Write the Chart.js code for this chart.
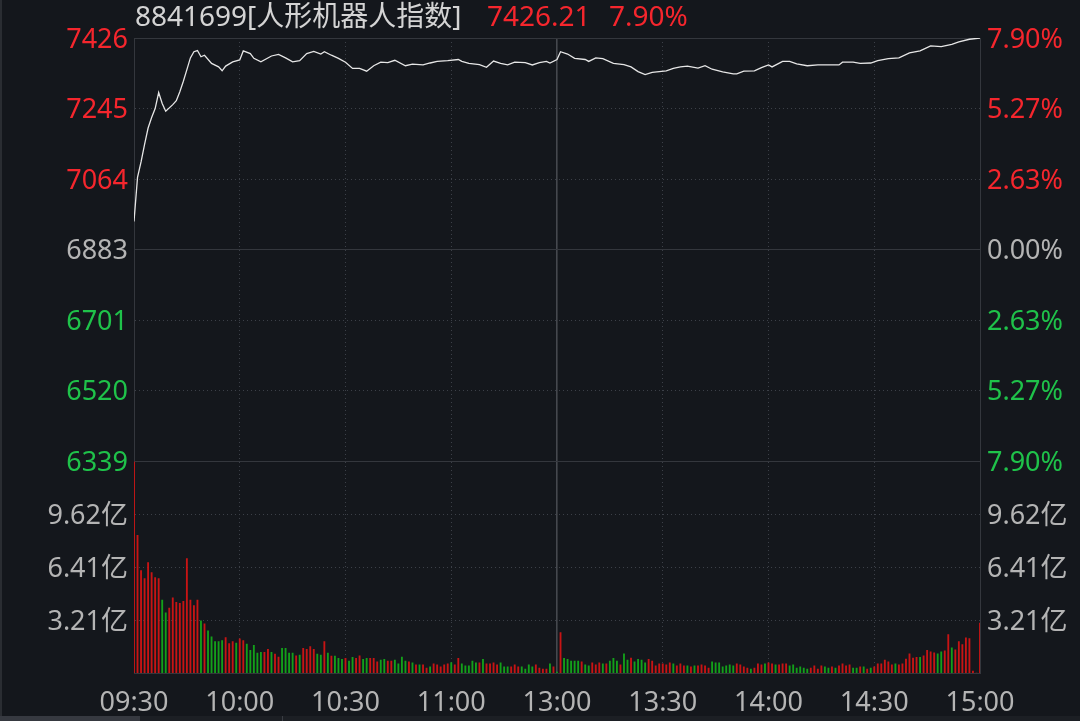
<!DOCTYPE html>
<html>
<head>
<meta charset="utf-8">
<script src="https://cdn.jsdelivr.net/npm/chart.js@4.4.1/dist/chart.umd.min.js"></script>
<style>
  html, body { margin: 0; padding: 0; background: #14171c; }
  #wrap { position: relative; width: 1080px; height: 721px; overflow: hidden; background: #14171c; }
  #chart { position: absolute; left: 0; top: 0; }
  .ttl { position: absolute; top: 0; line-height: 30px; font-size: 28px; white-space: pre;
         font-family: "Noto Sans", "Noto Sans CJK SC", sans-serif; color: #d4d4d4; }
  .up { color: #f5262d; }
  #edge { position: absolute; left: 0; top: 0; width: 2px; height: 716px; background: #2a2d32; }
  #strip { position: absolute; left: 0; top: 716px; width: 1080px; height: 5px; background: #1c1f24; }
  #strip .a { position: absolute; left: 0; top: 0; width: 140px; height: 5px; background: #363940; }
  #strip .b { position: absolute; left: 282px; top: 0; width: 1px; height: 5px; background: #3a3d43; }
</style>
</head>
<body>
<div id="wrap">
  <canvas id="chart" width="1080" height="721"></canvas>
  <div class="ttl" style="left:135px">8841699[人形机器人指数]</div>
  <div class="ttl up" style="left:487px">7426.21</div>
  <div class="ttl up" style="left:609px">7.90%</div>
  <div id="edge"></div>
  <div id="strip"><div class="a"></div><div class="b"></div></div>
</div>
<script>
// 昨收 / 最高, 轴的刻度由它们算出
const prevClose = 6882.5;
const dayHigh = 7426.21;
const volMax = 12.83; // 亿

// 刻度文字 (从上到下)
const priceTickLabels = ['7426', '7245', '7064', '6883', '6701', '6520', '6339'];
const pctTickLabels = ['7.90%', '5.27%', '2.63%', '0.00%', '2.63%', '5.27%', '7.90%'];
const volTickLabels = ['3.21亿', '6.41亿', '9.62亿']; // 从下到上
const timeTickMinutes = [0, 30, 60, 90, 120, 150, 180, 210, 240];
const timeLabels = ['09:30', '10:00', '10:30', '11:00', '13:00', '13:30', '14:00', '14:30', '15:00'];

// 分时价格 (分钟序号, 价格)
const priceMinutes = [
  0, 1, 2, 3, 4, 5, 6, 7, 8, 9,
  11, 12, 13, 14, 15, 16, 17, 18, 19, 20,
  22, 24, 25, 26, 28, 30, 31, 33, 34, 36,
  39, 41, 43, 45, 47, 49, 51, 53, 54, 56,
  58, 60, 62, 64, 66, 68, 70, 72, 74, 77,
  79, 82, 84, 86, 89, 92, 93, 95, 98, 100,
  102, 104, 106, 108, 111, 113, 115, 117, 118, 120,
  121, 123, 125, 128, 129, 131, 133, 136, 139, 141,
  143, 145, 147, 151, 153, 155, 157, 160, 162, 164,
  167, 170, 171, 173, 176, 178, 180, 181, 184, 186,
  188, 191, 194, 197, 200, 201, 204, 206, 209, 211,
  214, 217, 220, 223, 226, 229, 232, 234, 237, 240
];
const prices = [
  6955, 7068, 7108, 7153, 7195, 7222, 7245, 7286, 7258, 7238,
  7255, 7265, 7288, 7315, 7345, 7375, 7391, 7394, 7378, 7382,
  7361, 7352, 7342, 7354, 7365, 7370, 7393, 7386, 7374, 7365,
  7380, 7384, 7375, 7365, 7368, 7386, 7392, 7385, 7391, 7382,
  7374, 7364, 7348, 7348, 7341, 7355, 7364, 7363, 7369, 7355,
  7359, 7357, 7362, 7366, 7368, 7371, 7366, 7361, 7358, 7351,
  7367, 7361, 7357, 7364, 7363, 7357, 7363, 7366, 7362, 7371,
  7391, 7385, 7374, 7371, 7366, 7375, 7373, 7361, 7358, 7352,
  7340, 7332, 7338, 7342, 7348, 7352, 7354, 7349, 7355, 7346,
  7339, 7334, 7334, 7341, 7342, 7350, 7357, 7352, 7366, 7366,
  7360, 7355, 7357, 7357, 7357, 7364, 7364, 7361, 7362, 7368,
  7373, 7375, 7388, 7393, 7406, 7404, 7410, 7416, 7423, 7426.21
];

// 每分钟成交额 (亿)
const volumes = [
  12.8, 8.34, 6.21, 5.73, 6.69, 6.08, 5.79, 5.73, 4.42, 3.64,
  3.94, 4.55, 4.28, 4.22, 4.34, 6.94, 4.42, 4.08, 4.42, 3.16,
  2.98, 2.55, 2.19, 1.91, 1.91, 1.97, 2.15, 1.79, 1.91, 1.81,
  2.07, 1.97, 1.75, 1.38, 1.67, 1.20, 1.26, 1.26, 1.44, 1.26,
  1.14, 0.97, 1.50, 1.50, 1.20, 1.20, 1.04, 1.08, 1.50, 1.44,
  1.60, 1.44, 1.14, 1.08, 1.91, 1.20, 1.02, 1.02, 0.89, 0.83,
  0.89, 0.73, 0.95, 0.89, 1.04, 0.83, 0.89, 0.89, 0.89, 0.67,
  0.79, 0.83, 0.73, 0.73, 0.79, 0.55, 0.97, 0.73, 0.67, 0.61,
  0.49, 0.49, 0.49, 0.30, 0.37, 0.55, 0.49, 0.37, 0.49, 0.55,
  0.63, 0.49, 0.89, 0.55, 0.43, 0.43, 0.73, 0.61, 0.61, 0.83,
  0.55, 0.55, 0.61, 0.49, 0.61, 0.37, 0.37, 0.37, 0.49, 0.37,
  0.37, 0.24, 0.49, 0.37, 0.49, 0.30, 0.24, 0.24, 0.55, 0.37,
  0.06, 2.45, 0.89, 0.83, 0.73, 0.73, 0.73, 0.67, 0.49, 0.43,
  0.61, 0.49, 0.61, 0.55, 0.55, 0.73, 0.89, 0.73, 0.49, 1.16,
  0.79, 0.91, 0.67, 0.83, 0.79, 0.61, 0.83, 0.73, 0.43, 0.55,
  0.55, 0.49, 0.61, 0.55, 0.43, 0.55, 0.43, 0.43, 0.37, 0.43,
  0.43, 0.49, 0.43, 0.30, 0.67, 0.61, 0.61, 0.37, 0.43, 0.49,
  0.43, 0.55, 0.49, 0.37, 0.30, 0.24, 0.30, 0.55, 0.49, 0.55,
  0.61, 0.55, 0.49, 0.49, 0.55, 0.55, 0.43, 0.49, 0.30, 0.37,
  0.30, 0.24, 0.30, 0.43, 0.24, 0.43, 0.37, 0.30, 0.37, 0.30,
  0.43, 0.55, 0.43, 0.49, 0.30, 0.30, 0.37, 0.37, 0.24, 0.30,
  0.37, 0.55, 0.55, 0.79, 0.67, 0.49, 0.55, 0.49, 0.55, 0.85,
  1.16, 0.91, 0.95, 0.95, 1.04, 1.38, 1.28, 1.22, 1.16, 1.28,
  1.34, 2.33, 1.52, 1.40, 1.91, 1.73, 2.13, 2.09, 0.12, 0,
  3.02
];
// 涨(r) / 跌(g)
const volDir = (
  'rrrrrrrrgg' + 'rrrrrrrrrg' + 'rgggggrrrg' + 'rrgggggrrg' + 'rrggggrgrr' +
  'rrggrgrggg' + 'rggrrggrrr' + 'ggrrggggrg' + 'rgrrgrrrrr' + 'grrgggggrg' +
  'rrrrgggrrr' + 'ggggrrrrgr' + 'grgggggrgg' + 'rrrgrgggrg' + 'grggggrrrr' +
  'rrrgrrrgrg' + 'rrrrgggggg' + 'grrrrgrrrg' + 'rrgrrrgggg' + 'ggrrrrggrg' +
  'rrrrggrgrg' + 'rrrrrrgrrr' + 'rrrgrrrrgg' + 'rrgrrrrrrr' + 'r'
).split('');

const RED = '#f5262d';
const GREEN = '#1fc24a';
const GRAY = '#b4b4b4';
const BAR_RED = '#c81414';
const BAR_GREEN = '#13a01a';
const GRID_SOLID = '#34373d';
const GRID_DOT = '#3c4048';
const DOTS = [1, 3];

Chart.defaults.font.family = '"Noto Sans", "Noto Sans CJK SC", sans-serif';
Chart.defaults.font.size = 27;
Chart.defaults.color = GRAY;

const priceLow = 2 * prevClose - dayHigh;
const priceStep = (dayHigh - prevClose) / 3;
const nTicks = priceTickLabels.length;

const priceTicks = s => {
  s.ticks = priceTickLabels.map((_, i) => ({ value: priceLow + i * priceStep }));
};
const volTicks = s => {
  s.ticks = volTickLabels.map((_, i) => ({ value: volMax * (i + 1) / 4 }));
};
const tickColor = c => c.index > 3 ? RED : (c.index === 3 ? GRAY : GREEN);
const isSolid = c => c.index === 0 || c.index === 3 || c.index === nTicks - 1;

new Chart(document.getElementById('chart'), {
  type: 'line',
  data: {
    datasets: [{
      type: 'line',
      data: priceMinutes.map((m, i) => ({ x: m, y: prices[i] })),
      xAxisID: 'x',
      yAxisID: 'yPrice',
      borderColor: '#e6e6e6',
      borderWidth: 1.3,
      pointRadius: 0,
      tension: 0,
      order: 0
    }, {
      type: 'bar',
      data: volumes.map((v, i) => ({ x: i, y: v })),
      xAxisID: 'x',
      yAxisID: 'yVol',
      backgroundColor: c => volDir[c.dataIndex] === 'r' ? BAR_RED : BAR_GREEN,
      barThickness: 1.2,
      order: 1
    }]
  },
  options: {
    responsive: false,
    devicePixelRatio: 1,
    animation: false,
    layout: { padding: { top: 38, left: 0, right: 0, bottom: 0 } },
    plugins: { legend: { display: false }, tooltip: { enabled: false } },
    scales: {
      x: {
        type: 'linear',
        min: 0,
        max: 240,
        offset: false,
        afterBuildTicks: s => { s.ticks = timeTickMinutes.map(v => ({ value: v })); },
        afterFit: s => { s.height = 48; },
        ticks: { callback: (v, i) => timeLabels[i], autoSkip: false, maxRotation: 0, padding: 14, color: GRAY },
        grid: {
          offset: false,
          drawTicks: false,
          color: c => (c.tick && (c.tick.value === 0 || c.tick.value === 240)) ? 'rgba(0,0,0,0)'
            : (c.tick && c.tick.value === 120 ? '#45484e' : GRID_DOT),
          lineWidth: c => c.tick && c.tick.value === 120 ? 1.6 : 1
        },
        border: { display: true, color: GRID_SOLID, dash: c => c.tick && c.tick.value === 120 ? [] : DOTS }
      },
      // 左侧堆叠: 后定义的在上
      yVol: {
        type: 'linear',
        position: 'left',
        stack: 'L',
        stackWeight: 1,
        min: 0,
        max: volMax,
        afterBuildTicks: volTicks,
        afterFit: s => { s.width = 134; },
        ticks: { callback: (v, i) => volTickLabels[i], color: GRAY, padding: 6, labelOffset: 2 },
        grid: { drawTicks: false, color: GRID_DOT },
        border: { display: true, color: GRID_SOLID, dash: DOTS }
      },
      yPrice: {
        type: 'linear',
        position: 'left',
        stack: 'L',
        stackWeight: 2,
        min: priceLow,
        max: dayHigh,
        afterBuildTicks: priceTicks,
        afterFit: s => { s.width = 134; },
        ticks: { callback: (v, i) => priceTickLabels[nTicks - 1 - i], color: tickColor, padding: 6, labelOffset: 2 },
        grid: { drawTicks: false, color: c => isSolid(c) ? GRID_SOLID : GRID_DOT },
        border: { display: true, color: GRID_SOLID, dash: c => (c.tick && !isSolid(c)) ? DOTS : [] }
      },
      yPct: {
        type: 'linear',
        position: 'right',
        stack: 'R',
        stackWeight: 2,
        min: priceLow,
        max: dayHigh,
        afterBuildTicks: priceTicks,
        afterFit: s => { s.width = 100; },
        ticks: { callback: (v, i) => pctTickLabels[nTicks - 1 - i], color: tickColor, padding: 7, labelOffset: 2 },
        grid: { display: false, drawTicks: false },
        border: { display: true, color: GRID_SOLID }
      },
      yVolR: {
        type: 'linear',
        position: 'right',
        stack: 'R',
        stackWeight: 1,
        min: 0,
        max: volMax,
        afterBuildTicks: volTicks,
        afterFit: s => { s.width = 100; },
        ticks: { callback: (v, i) => volTickLabels[i], color: GRAY, padding: 7, labelOffset: 2 },
        grid: { display: false, drawTicks: false },
        border: { display: true, color: GRID_SOLID }
      }
    }
  }
});
</script>
</body>
</html>
